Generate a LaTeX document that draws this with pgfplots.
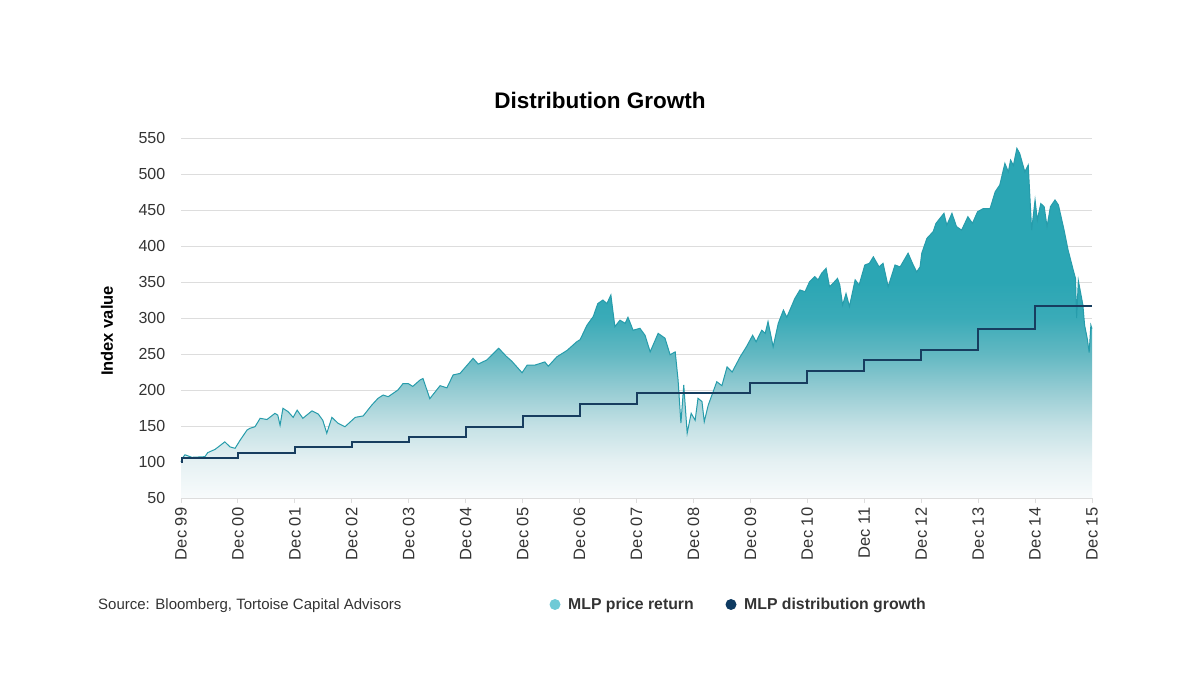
\documentclass[border=0pt]{standalone}
\usepackage{pgfplots}
\pgfplotsset{compat=1.18}
\usepackage{pgfplotstable}
\usepackage{fontspec}
\setmainfont{Liberation Sans}
\definecolor{tealtop}{HTML}{2BA6B4}
\definecolor{tealline}{HTML}{279CAB}
\definecolor{shA}{HTML}{F8FBFC}
\definecolor{shB}{HTML}{E6F1F3}
\definecolor{shC}{HTML}{C4E1E5}
\definecolor{shD}{HTML}{96CCD3}
\definecolor{shE}{HTML}{62B8C2}
\definecolor{shF}{HTML}{3AABB8}
\definecolor{navy}{HTML}{173D5F}
\definecolor{navydot}{HTML}{0E3A61}
\definecolor{cyandot}{HTML}{6FCAD6}
\definecolor{gridgrey}{HTML}{DDDDDD}
\definecolor{ticktext}{HTML}{333333}
\pgfdeclareverticalshading{mlpshade}{100bp}{color(0bp)=(shA); color(25bp)=(shA); color(30.1bp)=(shB); color(35.3bp)=(shC); color(40.4bp)=(shD); color(45.6bp)=(shE); color(50.7bp)=(shF); color(55.9bp)=(tealtop); color(100bp)=(tealtop)}

\pgfplotstableread{
t v
0.00 100
0.02 105
0.07 110
0.19 106.5
0.42 107.4
0.47 113
0.60 117.6
0.77 128
0.86 121
0.95 119
1.04 130.5
1.16 144.4
1.21 146.8
1.30 149
1.39 160.7
1.51 159
1.65 167.6
1.70 165
1.74 151
1.79 174.6
1.88 170
1.97 162
2.04 172
2.14 160.7
2.30 171
2.41 166.7
2.49 158
2.56 140
2.65 162
2.76 153.7
2.88 149
3.06 162
3.20 164
3.35 179
3.46 188.4
3.55 193
3.64 190.7
3.81 200
3.90 209
3.99 209
4.07 205
4.20 214
4.25 216
4.37 188
4.55 206
4.67 203
4.78 221
4.90 223
5.13 244
5.22 236
5.37 241.7
5.58 258
5.71 247
5.81 240
5.99 224
6.08 234.7
6.22 234.7
6.39 239
6.45 233
6.60 246
6.78 255
6.95 267
7.01 270
7.13 290
7.24 302
7.32 320
7.41 325
7.48 320
7.55 332
7.62 288
7.71 297
7.80 292.6
7.85 301
7.94 283
8.06 285.7
8.15 276
8.24 253
8.38 278.7
8.50 272
8.59 249
8.68 253
8.73 214
8.78 154
8.83 207
8.89 140
8.96 167.6
9.03 158
9.08 188.5
9.15 184
9.19 156
9.26 179
9.41 211.5
9.50 206
9.59 232
9.68 225
9.82 246
9.93 260
10.04 276
10.10 267
10.20 283
10.26 278.7
10.31 295
10.40 260
10.49 292.6
10.58 311
10.64 301
10.78 327
10.87 339
10.96 336.5
11.04 350.5
11.13 357.4
11.19 353
11.25 362
11.33 369
11.39 343.5
11.45 348
11.53 355
11.57 346
11.62 318
11.68 334
11.74 316
11.84 353
11.91 346
12.01 373.6
12.09 376
12.16 385
12.26 371
12.33 376
12.42 343.5
12.54 373.6
12.63 371
12.77 390
12.86 373.6
12.92 364
12.98 371
13.01 390
13.10 410.6
13.21 420
13.26 431.5
13.33 438.5
13.40 445.4
13.45 429
13.54 445.4
13.62 427
13.71 422
13.82 440.7
13.90 431.5
13.99 447.6
14.09 452
14.21 452
14.30 475.4
14.38 484.7
14.47 514.8
14.53 503
14.57 519.4
14.62 512
14.68 535.7
14.73 528.6
14.82 503
14.88 512.5
14.94 422
15.00 464
15.04 436
15.10 459
15.16 454.6
15.21 427
15.27 454.6
15.35 464
15.41 457
15.51 422
15.58 394.4
15.67 366.7
15.71 355
15.73 300
15.76 352
15.80 335
15.84 318
15.87 290
15.92 270
15.95 252
15.98 290
16.00 285
}\price

\pgfplotstableread{
t v
0 100
0.02 105
1 113
2 121
3 128
4 135
5 148
6 164
7 181
8 195.5
9 196.5
10 210
11 226
12 241.5
13 255.5
14 285
15 317
16 317
}\dist

\begin{document}
\begin{tikzpicture}[x=1pt,y=1pt]
\useasboundingbox (0,0) rectangle (1200,675);
\begin{axis}[
  at={(181pt,177pt)}, anchor=south west,
  scale only axis, width=911pt, height=360pt,
  xmin=0, xmax=16, ymin=50, ymax=550,
  axis line style={draw=none},
  ytick={50,100,...,550},
  xtick={0,...,16},
  xticklabels={Dec 99,Dec 00,Dec 01,Dec 02,Dec 03,Dec 04,Dec 05,Dec 06,Dec 07,Dec 08,Dec 09,Dec 10,Dec 11,Dec 12,Dec 13,Dec 14,Dec 15},
  ymajorgrids, grid style={draw=gridgrey, line width=0.9pt},
  tick pos=left, tick align=outside,
  xtick style={draw=gridgrey, line width=0.9pt},
  ytick style={draw=none},
  x tick style={/pgfplots/major tick length=5pt},
  y tick style={/pgfplots/major tick length=0pt},
  /pgf/number format/assume math mode=true,
  yticklabel style={font=\fontsize{16}{16}\selectfont, text=ticktext, xshift=-8pt},
  xticklabel style={font=\fontsize{16.5}{16.5}\selectfont, text=ticktext, rotate=90, anchor=east, xshift=-2pt},
  clip=false,
]
\addplot[draw=none, shading=mlpshade] table {\price} -- (axis cs:16,50) -- (axis cs:0,50) -- cycle;
\addplot[tealline, line width=1pt] table {\price};
\addplot[navy, line width=2pt, const plot] table {\dist};
\end{axis}
\node[font=\fontsize{22.5}{22.5}\selectfont\bfseries] at (600,575) {Distribution Growth};
\node[font=\fontsize{16.5}{16.5}\selectfont\bfseries, rotate=90] at (107,344) {Index value};
\node[font=\fontsize{15}{15}\selectfont, anchor=base west, inner sep=0pt, text=ticktext] at (98,65) {Source: Bloomberg, Tortoise Capital Advisors};
\fill[cyandot] (555,70.5) circle (5.5);
\node[font=\fontsize{15.8}{15.8}\selectfont\bfseries, anchor=base west, inner sep=0pt, text=ticktext] at (568,65) {MLP price return};
\fill[navydot] (731,70.5) circle (5.5);
\node[font=\fontsize{15.8}{15.8}\selectfont\bfseries, anchor=base west, inner sep=0pt, text=ticktext] at (744,65) {MLP distribution growth};
\end{tikzpicture}
\end{document}
